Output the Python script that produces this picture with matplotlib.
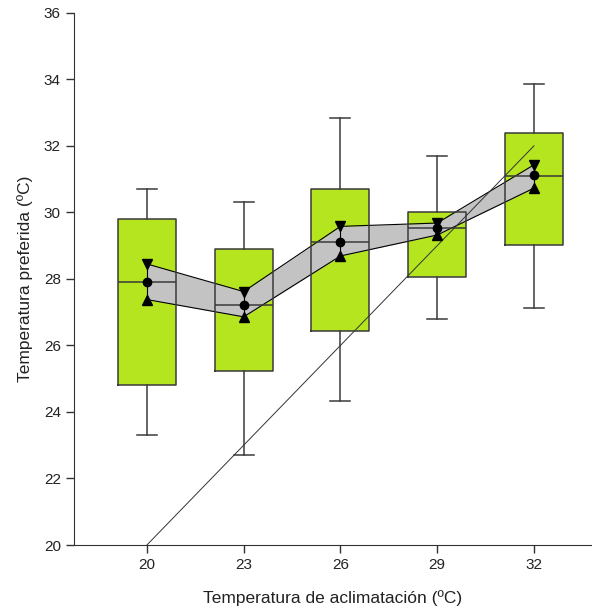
import matplotlib
matplotlib.use("Agg")
import matplotlib.pyplot as plt

plt.rcParams['font.family'] = ['Liberation Sans', 'DejaVu Sans']

# temperaturas de aclimatación
acclim = [20, 23, 26, 29, 32]
# resumen de cajas
whislo = [23.31, 22.70, 24.33, 26.80, 27.12]
q1 = [24.80, 25.24, 26.43, 28.07, 29.02]
med = [27.90, 27.21, 29.10, 29.52, 31.10]
q3 = [29.80, 28.91, 30.70, 30.00, 32.40]
whishi = [30.69, 30.32, 32.85, 31.70, 33.86]
# media y límites de la banda
mean = [27.92, 27.23, 29.12, 29.54, 31.12]
upper = [28.45, 27.62, 29.58, 29.68, 31.43]
lower = [27.38, 26.86, 28.69, 29.32, 30.73]
# recta y = x
diag_x = [20, 32]
diag_y = [20, 32]

stats = []
for i in range(len(acclim)):
    stats.append({"whislo": whislo[i], "q1": q1[i], "med": med[i],
                  "q3": q3[i], "whishi": whishi[i], "fliers": []})

fig = plt.figure(figsize=(5.92, 6.11), dpi=100)
ax = fig.add_axes([0.125, 0.108, 0.875, 0.871])

edge = "#3a3a3a"
# relleno de las cajas (debajo de la banda)
ax.bxp(stats, positions=acclim, widths=1.8, patch_artist=True, showcaps=False,
       boxprops=dict(facecolor="#b4e51e", edgecolor="none"),
       medianprops=dict(linewidth=0), whiskerprops=dict(linewidth=0),
       zorder=1)

# banda gris
ax.fill_between(acclim, lower, upper, color="#c3c3c3", zorder=2, linewidth=0)
ax.plot(acclim, upper, color="black", lw=0.8, zorder=3)
ax.plot(acclim, lower, color="black", lw=0.8, zorder=3)

# contorno de cajas, medianas y bigotes
ax.bxp(stats, positions=acclim, widths=1.8, patch_artist=False,
       boxprops=dict(color=edge, linewidth=1.1),
       medianprops=dict(color=edge, linewidth=1.1),
       whiskerprops=dict(color=edge, linewidth=1.1),
       capprops=dict(color=edge, linewidth=1.1), capwidths=0.62,
       zorder=4)

ax.plot(diag_x, diag_y, color="#333333", lw=0.7, zorder=5)

ax.vlines(acclim, lower, upper, color="black", lw=0.8, zorder=6)
ax.plot(acclim, upper, "v", color="black", ms=7, zorder=7)
ax.plot(acclim, lower, "^", color="black", ms=7, zorder=7)
ax.plot(acclim, mean, "o", color="black", ms=6, zorder=7)

ax.set_xlim(17.74, 33.8)
ax.set_ylim(20, 36)
ax.set_xticks(acclim)
ax.set_xticklabels([str(a) for a in acclim])
ax.set_yticks([20, 22, 24, 26, 28, 30, 32, 34, 36])
ax.spines["top"].set_visible(False)
ax.spines["right"].set_visible(False)
ax.spines["left"].set_color("#333333")
ax.spines["bottom"].set_color("#333333")
ax.tick_params(direction="out", length=6, width=1, colors="#333333",
               labelsize=11, labelcolor="#222222")
ax.set_xlabel("Temperatura de aclimatación (ºC)", fontsize=12.5, labelpad=13,
              color="#222222")
ax.set_ylabel("Temperatura preferida (ºC)", fontsize=12.5, labelpad=8,
              color="#222222")

fig.savefig("out.png", dpi=100)
